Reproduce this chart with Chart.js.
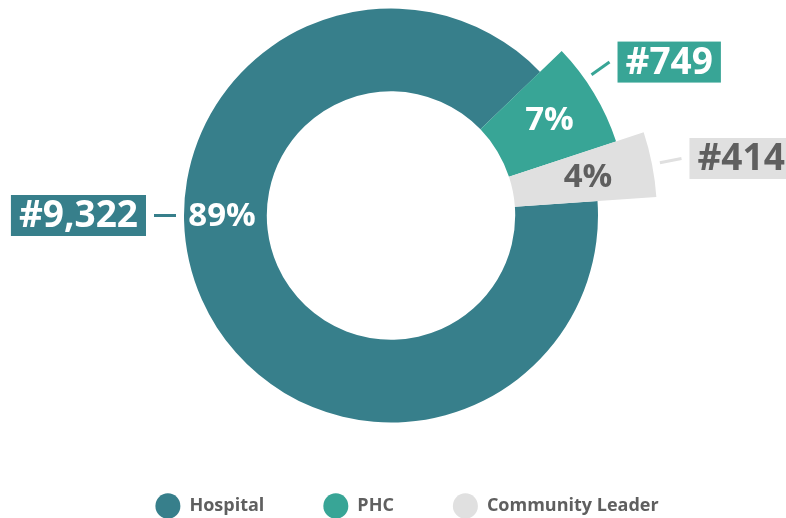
<!DOCTYPE html>
<html>
<head>
<meta charset="utf-8">
<script src="https://cdn.jsdelivr.net/npm/chart.js@4"></script>
<style>
html, body { margin: 0; padding: 0; background: #fff; }
#wrap { width: 786px; height: 518px; }
</style>
</head>
<body>
<div id="wrap"><canvas id="myChart"></canvas></div>
<script>
const CATEGORIES = ["Hospital", "PHC", "Community Leader"];
const COUNTS = [9322, 749, 414];

const COLOURS = ["#377f8b", "#38a596", "#e0e0e0"];
const TEXT_COLOURS = ["#ffffff", "#ffffff", "#5f5f5f"];
const EXTRA_REACH = [0, 30, 59];        // px the small slices stick out past the ring
const LABEL_ANGLE = [180, null, null];  // degrees on canvas, null = middle of the slice
const LEADER_TILT = [0, -4, 0];         // degrees, nudges the callout line

const FONT = '"Open Sans", "DejaVu Sans", sans-serif';

// push the small slices further out than the main ring
const sliceReach = {
    id: 'sliceReach',
    afterDatasetsUpdate(chart) {
        let meta = chart.getDatasetMeta(0);
        meta.data.forEach((arc, i) => {
            arc.outerRadius += EXTRA_REACH[i];
        });
    }
};

// the legend sits a little lower and right of the doughnut's centre
const legendShift = {
    id: 'legendShift',
    afterLayout(chart) {
        chart.legend.left += 16;
        chart.legend.right += 16;
        chart.legend.top += 7;
        chart.legend.bottom += 7;
    }
};

// percentages inside, counts in boxes outside
const callouts = {
    id: 'callouts',
    afterDatasetsDraw(chart) {
        const ctx = chart.ctx;
        const meta = chart.getDatasetMeta(0);
        const total = COUNTS.reduce((a, b) => a + b, 0);

        ctx.save();
        ctx.textAlign = 'center';
        ctx.textBaseline = 'middle';

        meta.data.forEach((arc, i) => {
            let {x, y, startAngle, endAngle, innerRadius, outerRadius} = arc;
            let a = LABEL_ANGLE[i] === null ? (startAngle + endAngle) / 2 : LABEL_ANGLE[i] * Math.PI / 180;
            let cos = Math.cos(a), sin = Math.sin(a);

            // percent label
            let r = innerRadius + (outerRadius - innerRadius) * 0.54;
            ctx.font = 'bold 33px ' + FONT;
            ctx.fillStyle = TEXT_COLOURS[i];
            ctx.fillText(Math.round(COUNTS[i] / total * 100) + '%', x + cos * r, y + sin * r + 1);

            // leader line
            let la = a + LEADER_TILT[i] * Math.PI / 180;
            let lc = Math.cos(la), ls = Math.sin(la);
            let x1 = x + lc * (outerRadius + 8), y1 = y + ls * (outerRadius + 8);
            let x2 = x + lc * (outerRadius + 30), y2 = y + ls * (outerRadius + 30);
            ctx.strokeStyle = COLOURS[i];
            ctx.lineWidth = 3;
            ctx.beginPath();
            ctx.moveTo(x1, y1);
            ctx.lineTo(x2, y2);
            ctx.stroke();

            // count box
            let text = '#' + COUNTS[i].toLocaleString('en-US');
            ctx.font = 'bold 37px ' + FONT;
            let w = ctx.measureText(text).width + 16;
            let h = 41;
            let bx = lc < 0 ? x2 - 8 - w : x2 + 8;
            let by = y2 - h / 2;
            ctx.fillStyle = COLOURS[i];
            ctx.fillRect(bx, by, w, h);
            ctx.fillStyle = TEXT_COLOURS[i];
            ctx.fillText(text, bx + w / 2, by + h / 2 + 1);
        });

        ctx.restore();
    }
};

const ctx = document.getElementById('myChart').getContext('2d');

new Chart(ctx, {
    type: 'doughnut',
    data: {
        labels: CATEGORIES,
        datasets: [{
            data: COUNTS,
            backgroundColor: COLOURS,
            borderWidth: 0,
            clip: false,
        }]
    },
    options: {
        responsive: true,
        maintainAspectRatio: false,
        animation: false,
        rotation: 86,
        radius: 207,
        cutout: '60%',
        layout: {
            padding: {left: 0, right: 4, top: 0, bottom: 0}
        },
        plugins: {
            tooltip: {enabled: false},
            legend: {
                position: 'bottom',
                labels: {
                    usePointStyle: true,
                    pointStyle: 'circle',
                    pointStyleWidth: 25,
                    padding: 59,
                    color: '#5f5f5f',
                    font: {family: FONT, size: 18, weight: 'bold'}
                }
            }
        },
        events: []
    },
    plugins: [sliceReach, legendShift, callouts]
});
</script>
</body>
</html>
